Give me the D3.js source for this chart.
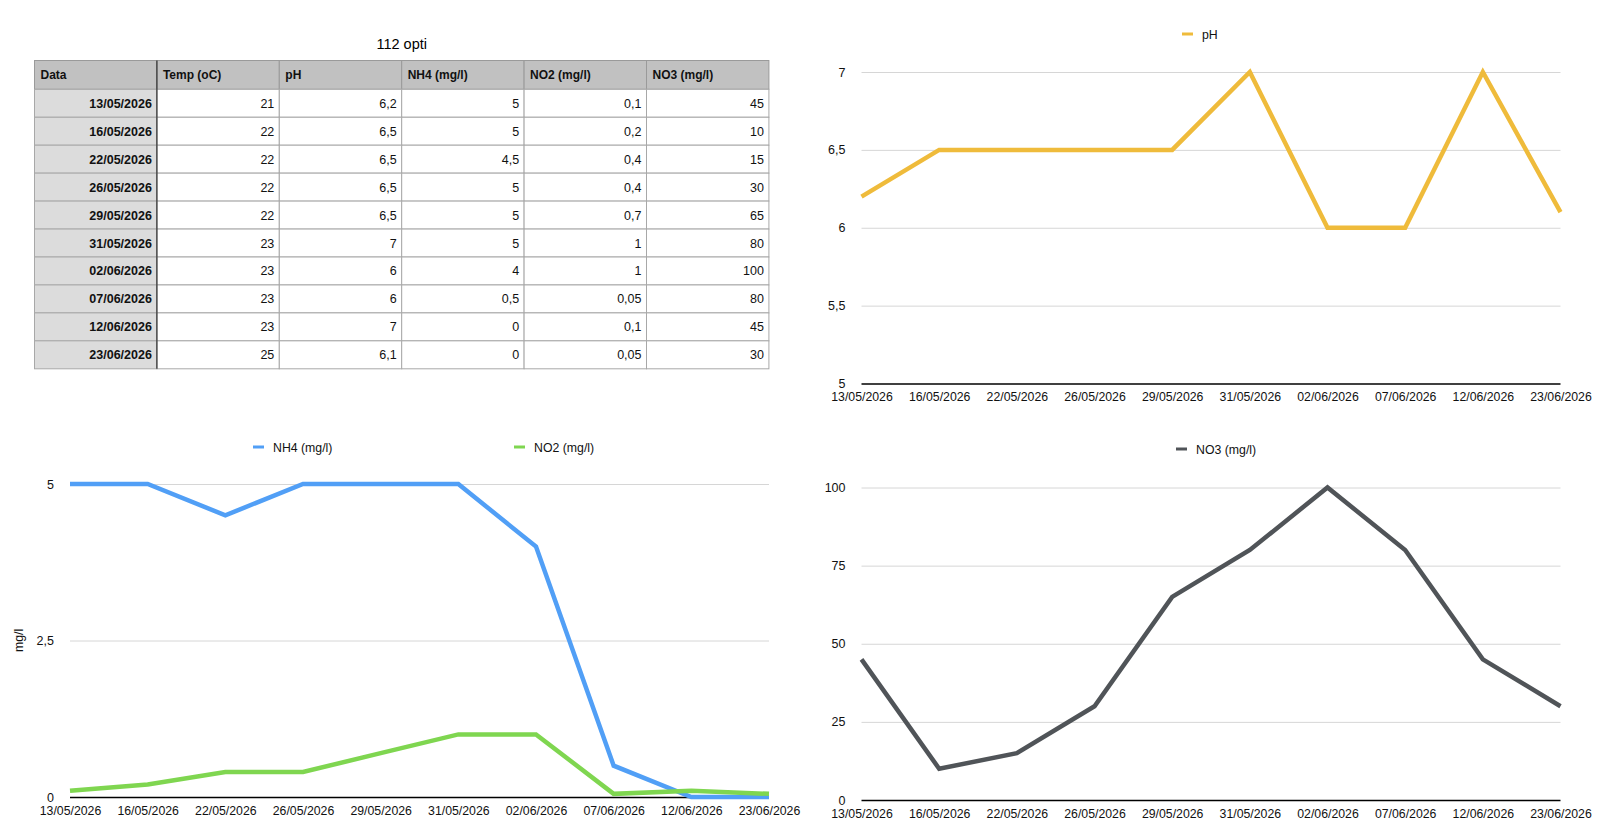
<!DOCTYPE html>
<html>
<head>
<meta charset="utf-8">
<script src="https://cdn.jsdelivr.net/npm/d3@7"></script>
<style>
  body { margin: 0; background: #fff; font-family: "Liberation Sans", Arial, sans-serif; }
  svg text { font-family: "Liberation Sans", Arial, sans-serif; }
</style>
</head>
<body>
<svg id="chart" width="1612" height="834"></svg>
<script>
// data read from the sheet
const dates = ['13/05/2026','16/05/2026','22/05/2026','26/05/2026','29/05/2026','31/05/2026','02/06/2026','07/06/2026','12/06/2026','23/06/2026'];
const temp = [21,22,22,22,22,23,23,23,23,25];
const ph = [6.2,6.5,6.5,6.5,6.5,7,6,6,7,6.1];
const nh4 = [5,5,4.5,5,5,5,4,0.5,0,0];
const no2 = [0.1,0.2,0.4,0.4,0.7,1,1,0.05,0.1,0.05];
const no3 = [45,10,15,30,65,80,100,80,45,30];
const headers = ['Data','Temp (oC)','pH','NH4 (mg/l)','NO2 (mg/l)','NO3 (mg/l)'];

const fmt = v => String(v).replace('.', ',');
const svg = d3.select('#chart');

// ---- table ----
function drawTable() {
  const g = svg.append('g');
  const x0 = 34.5, y0 = 60.5, colW = 122.4, headH = 28.8, rowH = 27.95;
  g.append('text').attr('x', x0 + colW * 3).attr('y', 48.5)
    .attr('text-anchor', 'middle').attr('font-size', 14.5).attr('fill', '#000').text('112 opti');

  const rows = dates.map((d, i) => [d, temp[i], ph[i], nh4[i], no2[i], no3[i]]);

  // header
  headers.forEach((h, c) => {
    g.append('rect').attr('x', x0 + c * colW).attr('y', y0).attr('width', colW).attr('height', headH)
      .attr('fill', '#c1c1c1').attr('stroke', '#9a9a9a');
    g.append('text').attr('x', x0 + c * colW + 6).attr('y', y0 + headH / 2 + 4.5)
      .attr('font-size', 12).attr('font-weight', 'bold').attr('fill', '#111').text(h);
  });
  rows.forEach((r, i) => {
    const y = y0 + headH + i * rowH;
    r.forEach((v, c) => {
      g.append('rect').attr('x', x0 + c * colW).attr('y', y).attr('width', colW).attr('height', rowH)
        .attr('fill', c === 0 ? '#dcdcdc' : '#fff').attr('stroke', '#a8a8a8');
      g.append('text').attr('x', x0 + (c + 1) * colW - 5).attr('y', y + rowH / 2 + 4.5)
        .attr('text-anchor', 'end').attr('font-size', 12.5)
        .attr('font-weight', c === 0 ? 'bold' : 'normal').attr('fill', '#111')
        .text(c === 0 ? v : fmt(v));
    });
  });
  // dark divider after date column
  g.append('line').attr('x1', x0 + colW).attr('x2', x0 + colW)
    .attr('y1', y0).attr('y2', y0 + headH + rows.length * rowH)
    .attr('stroke', '#333').attr('stroke-width', 1.2);
}

// ---- line chart ----
function lineChart(opt) {
  const g = svg.append('g');
  const x = d3.scalePoint().domain(dates).range([opt.left, opt.right]);
  const y = d3.scaleLinear().domain(opt.domain).range([opt.bottom, opt.top]);

  // grid
  g.append('g').selectAll('line').data(opt.ticks.slice(1)).join('line')
    .attr('x1', opt.left).attr('x2', opt.right)
    .attr('y1', d => y(d) + 0.5).attr('y2', d => y(d) + 0.5)
    .attr('stroke', '#d6d6d6').attr('stroke-width', 1);

  // y labels
  g.append('g').selectAll('text').data(opt.ticks).join('text')
    .attr('x', opt.left - 16).attr('y', d => y(d) + 4.5)
    .attr('text-anchor', 'end').attr('font-size', 12.5).attr('fill', '#111')
    .text(d => fmt(d));

  // x axis
  const xa = g.append('g').attr('transform', `translate(0,${opt.bottom})`)
    .call(d3.axisBottom(x).tickSize(0).tickPadding(9));
  xa.select('.domain').attr('d', `M${opt.left},0.5H${opt.right}`).attr('stroke', '#000').attr('stroke-width', 1.7);
  xa.selectAll('text').attr('font-size', 12.3).attr('fill', '#111');

  // series
  const line = d3.line().x((d, i) => x(dates[i])).y(d => y(d));
  opt.series.forEach(s => {
    g.append('path').datum(s.values).attr('d', line)
      .attr('fill', 'none').attr('stroke', s.color).attr('stroke-width', 4.5)
      .attr('stroke-linejoin', 'miter').attr('stroke-linecap', 'butt');
  });

  // legend
  opt.series.forEach(s => {
    g.append('line').attr('x1', s.lx).attr('x2', s.lx + 11)
      .attr('y1', opt.legendY).attr('y2', opt.legendY)
      .attr('stroke', s.color).attr('stroke-width', 3);
    g.append('text').attr('x', s.lx + 20).attr('y', opt.legendY + 4.5)
      .attr('font-size', 12.3).attr('fill', '#111').text(s.name);
  });

  if (opt.yTitle) {
    g.append('text').attr('transform', `translate(23,${(opt.top + opt.bottom) / 2}) rotate(-90)`)
      .attr('text-anchor', 'middle').attr('font-size', 12.3).attr('fill', '#111').text(opt.yTitle);
  }
}

drawTable();

lineChart({
  left: 861.5, right: 1560.5, top: 72, bottom: 383.5,
  domain: [5, 7], ticks: [5, 5.5, 6, 6.5, 7], legendY: 34,
  series: [{ name: 'pH', values: ph, color: '#efbb3b', lx: 1182 }]
});

lineChart({
  left: 70, right: 769, top: 484, bottom: 797,
  domain: [0, 5], ticks: [0, 2.5, 5], legendY: 447, yTitle: 'mg/l',
  series: [
    { name: 'NH4 (mg/l)', values: nh4, color: '#519ff6', lx: 253 },
    { name: 'NO2 (mg/l)', values: no2, color: '#7fd650', lx: 514 }
  ]
});

lineChart({
  left: 861.5, right: 1560.5, top: 487.5, bottom: 800,
  domain: [0, 100], ticks: [0, 25, 50, 75, 100], legendY: 449,
  series: [{ name: 'NO3 (mg/l)', values: no3, color: '#505458', lx: 1176 }]
});
</script>
</body>
</html>
